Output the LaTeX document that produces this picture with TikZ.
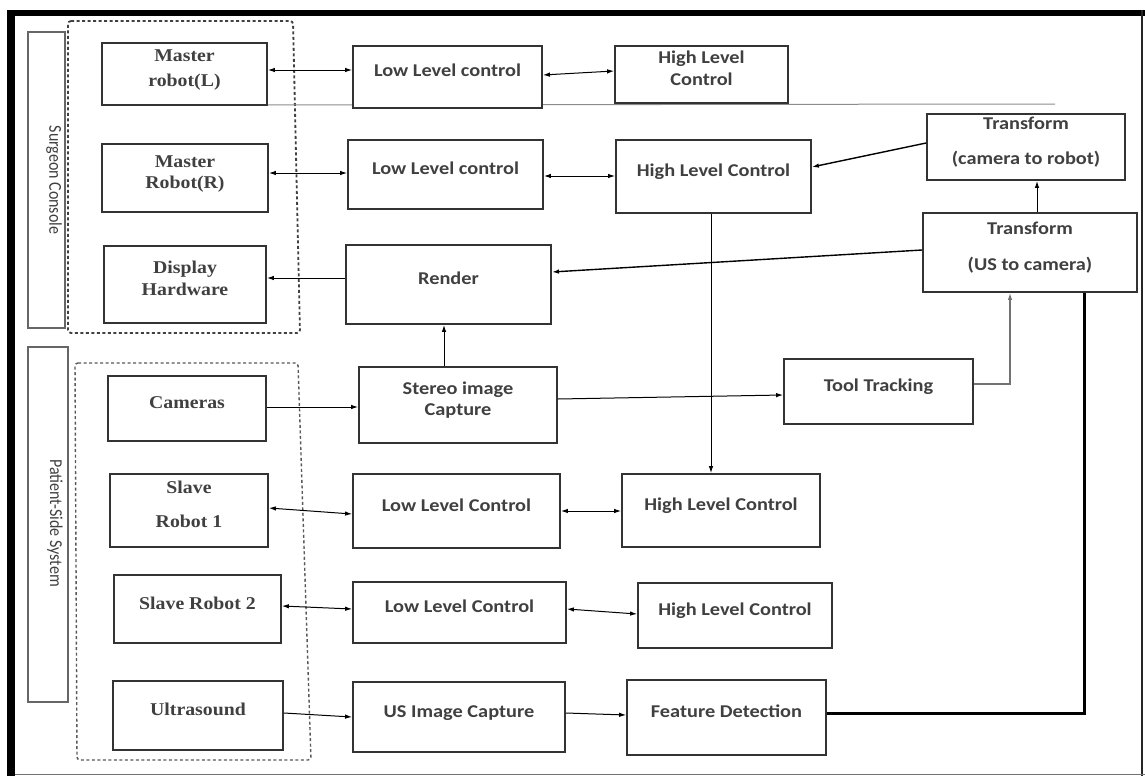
\documentclass[tikz,border=0pt]{standalone}
\usepackage{fontspec}
\usepackage{graphicx}
\newfontfamily\lserif{Liberation Serif}[FakeStretch=1.1]
\newfontfamily\lsans{Carlito}[FakeStretch=1.13]
\newfontfamily\lside{Carlito}
\usetikzlibrary{arrows.meta}
\begin{document}
\begin{tikzpicture}[x=1pt,y=-1pt,
  box/.style={draw=black!80, line width=1.8pt, fill=white, inner sep=0pt,
    text height=1pt, text depth=1pt, text=black!75},
  sbox/.style={box, font=\lserif\bfseries\fontsize{18}{21.6}\selectfont},
  nbox/.style={box, font=\lsans\bfseries\fontsize{18}{21.6}\selectfont},
  wh/.style 2 args={minimum width=#1pt, minimum height=#2pt},
  sidebox/.style={draw=black!60, line width=1.1pt, inner sep=0pt},
  sidetext/.style={font=\lside\fontsize{16}{19}\selectfont, text=black!75, inner sep=0pt},
  group/.style={draw=black!75, line width=1.8pt, dash pattern=on 3pt off 2.5pt, rounded corners=3pt},
  arr/.style={line width=1pt, -{Latex[length=7pt,width=4.5pt]}},
  darr/.style={line width=1pt, {Latex[length=7pt,width=4.5pt]}-{Latex[length=7pt,width=4.5pt]}},
]
\useasboundingbox (0,0) rectangle (1145,776);
\fill[white] (0,0) rectangle (1145,776);

% outer frame
\fill[black] (7,10) rectangle (1145,16);
\fill[black] (7,10) rectangle (15,776);
\draw[black!85, line width=2.5pt] (1142,10) -- (1142,776);
\draw[black!55, line width=1.5pt] (15,774.5) -- (1145,774.5);

% side labels
\node[sidebox, wh={37}{296}] (sc) at (46.5,180) {};
\node[sidetext] (sctext) at (54,180) {\rotatebox{-90}{\scalebox{1}[1.13]{Surgeon Console}}};
\node[sidebox, wh={40}{355}] (ps) at (48,524.5) {};
\node[sidetext] (pstext) at (55,523) {\rotatebox{-90}{\scalebox{1}[1.13]{Patient-Side System}}};

% groups
\draw[group] (68,21) -- (293,21) -- (300,333) -- (68,333) -- cycle;
\draw[group, draw=black!65, line width=1.4pt] (75,363) -- (298,363) -- (311,760) -- (77,760) -- cycle;

% separator line
\coordinate (sepend) at (1055,104);
\draw[black!45, line width=1pt] (267,105) -- (sepend);

% left column
\node[sbox, wh={165}{62}] (mL) at (184.5,74) {\begin{tabular}{@{}c@{}}Master\\[3pt]robot(L)\end{tabular}};
\node[sbox, wh={166}{68}] (mR) at (185,178) {\begin{tabular}{@{}c@{}}Master\\Robot(R)\end{tabular}};
\node[sbox, wh={162}{77}] (disp) at (185,284.5) {\begin{tabular}{@{}c@{}}Display\\Hardware\end{tabular}};
\node[sbox, wh={158}{65}] (cam) at (187,408.5) {Cameras};
\node[sbox, wh={158}{73}] (s1) at (189,510.5) {\begin{tabular}{@{}c@{}}Slave\\[13pt]Robot 1\end{tabular}};
\node[sbox, wh={167}{68}] (s2) at (197.5,609) {Slave Robot 2};
\node[sbox, wh={170}{69}] (us) at (198,715.5) {Ultrasound};

% second column
\node[nbox, wh={189}{62}] (llc1) at (447.5,77) {Low Level control};
\node[nbox, wh={195}{69}] (llc2) at (445.5,174.5) {Low Level control};
\node[nbox, wh={205}{79}] (render) at (448.5,284.5) {Render};
\node[nbox, wh={198}{76}] (stereo) at (458,405) {\begin{tabular}{@{}c@{}}Stereo image\\Capture\end{tabular}};
\node[nbox, wh={207}{74}] (llc3) at (456.5,511) {Low Level Control};
\node[nbox, wh={213}{61}] (llc4) at (459.5,612.5) {Low Level Control};
\node[nbox, wh={212}{70}] (usic) at (459,717) {US Image Capture};

% third column
\node[nbox, wh={173}{57}] (hlc1) at (701.5,74.5) {\begin{tabular}{@{}c@{}}High Level\\Control\end{tabular}};
\node[nbox, wh={195}{73}] (hlc2) at (713.5,176.5) {High Level Control};
\node[nbox, wh={198}{73}] (hlc3) at (721,510.5) {High Level Control};
\node[nbox, wh={194}{65}] (hlc4) at (735,615.5) {High Level Control};
\node[nbox, wh={199}{75}] (feat) at (726.5,717.5) {Feature Detection};
\node[nbox, wh={189}{65}] (tool) at (878.5,391.5) {Tool Tracking};

% right column
\node[nbox, wh={198}{66}] (tcr) at (1026,147) {\begin{tabular}{@{}c@{}}Transform\\[14pt](camera to robot)\end{tabular}};
\node[nbox, wh={214}{79}] (tus) at (1030,252.5) {\begin{tabular}{@{}c@{}}Transform\\[14pt](US to camera)\end{tabular}};

% connectors
\draw[darr] (mL.east |- 0,70) -- (llc1.west |- 0,70);
\draw[darr] (llc1.east |- 0,75) -- (hlc1.west |- 0,71);
\draw[darr] (mR.east |- 0,173) -- (llc2.west |- 0,173);
\draw[darr] (llc2.east |- 0,176) -- (hlc2.west |- 0,176);
\draw[arr, line width=1.4pt] (tcr.west |- 0,143) -- (hlc2.east |- 0,167);
\draw[arr] (tus.north -| 1037,0) -- (tcr.south -| 1037,0);
\draw[arr, line width=1.4pt] (tus.west |- 0,250) -- (render.east |- 0,272);
\draw[arr] (render.west |- 0,278) -- (disp.east |- 0,278);
\draw[arr] (stereo.north -| 444,0) -- (render.south -| 444,0);
\draw[arr] (cam.east |- 0,407) -- (stereo.west |- 0,407);
\draw[arr] (stereo.east |- 0,399) -- (tool.west |- 0,395);
\draw[arr, draw=black!55, line width=1.2pt] (tool.east |- 0,384) -| (tus.south -| 1010,0);
\draw[arr] (hlc2.south -| 711,0) -- (hlc3.north -| 711,0);
\draw[darr] (llc3.east |- 0,511) -- (hlc3.west |- 0,511);
\draw[darr] (s1.east |- 0,508) -- (llc3.west |- 0,514);
\draw[darr] (s2.east |- 0,606) -- (llc4.west |- 0,609);
\draw[darr] (llc4.east |- 0,609) -- (hlc4.west |- 0,614);
\draw[arr] (us.east |- 0,713) -- (usic.west |- 0,717);
\draw[arr] (usic.east |- 0,713) -- (feat.west |- 0,715);
\draw[line width=3pt] (feat.east |- 0,713) -| (tus.south -| 1084,0);
\end{tikzpicture}
\end{document}
